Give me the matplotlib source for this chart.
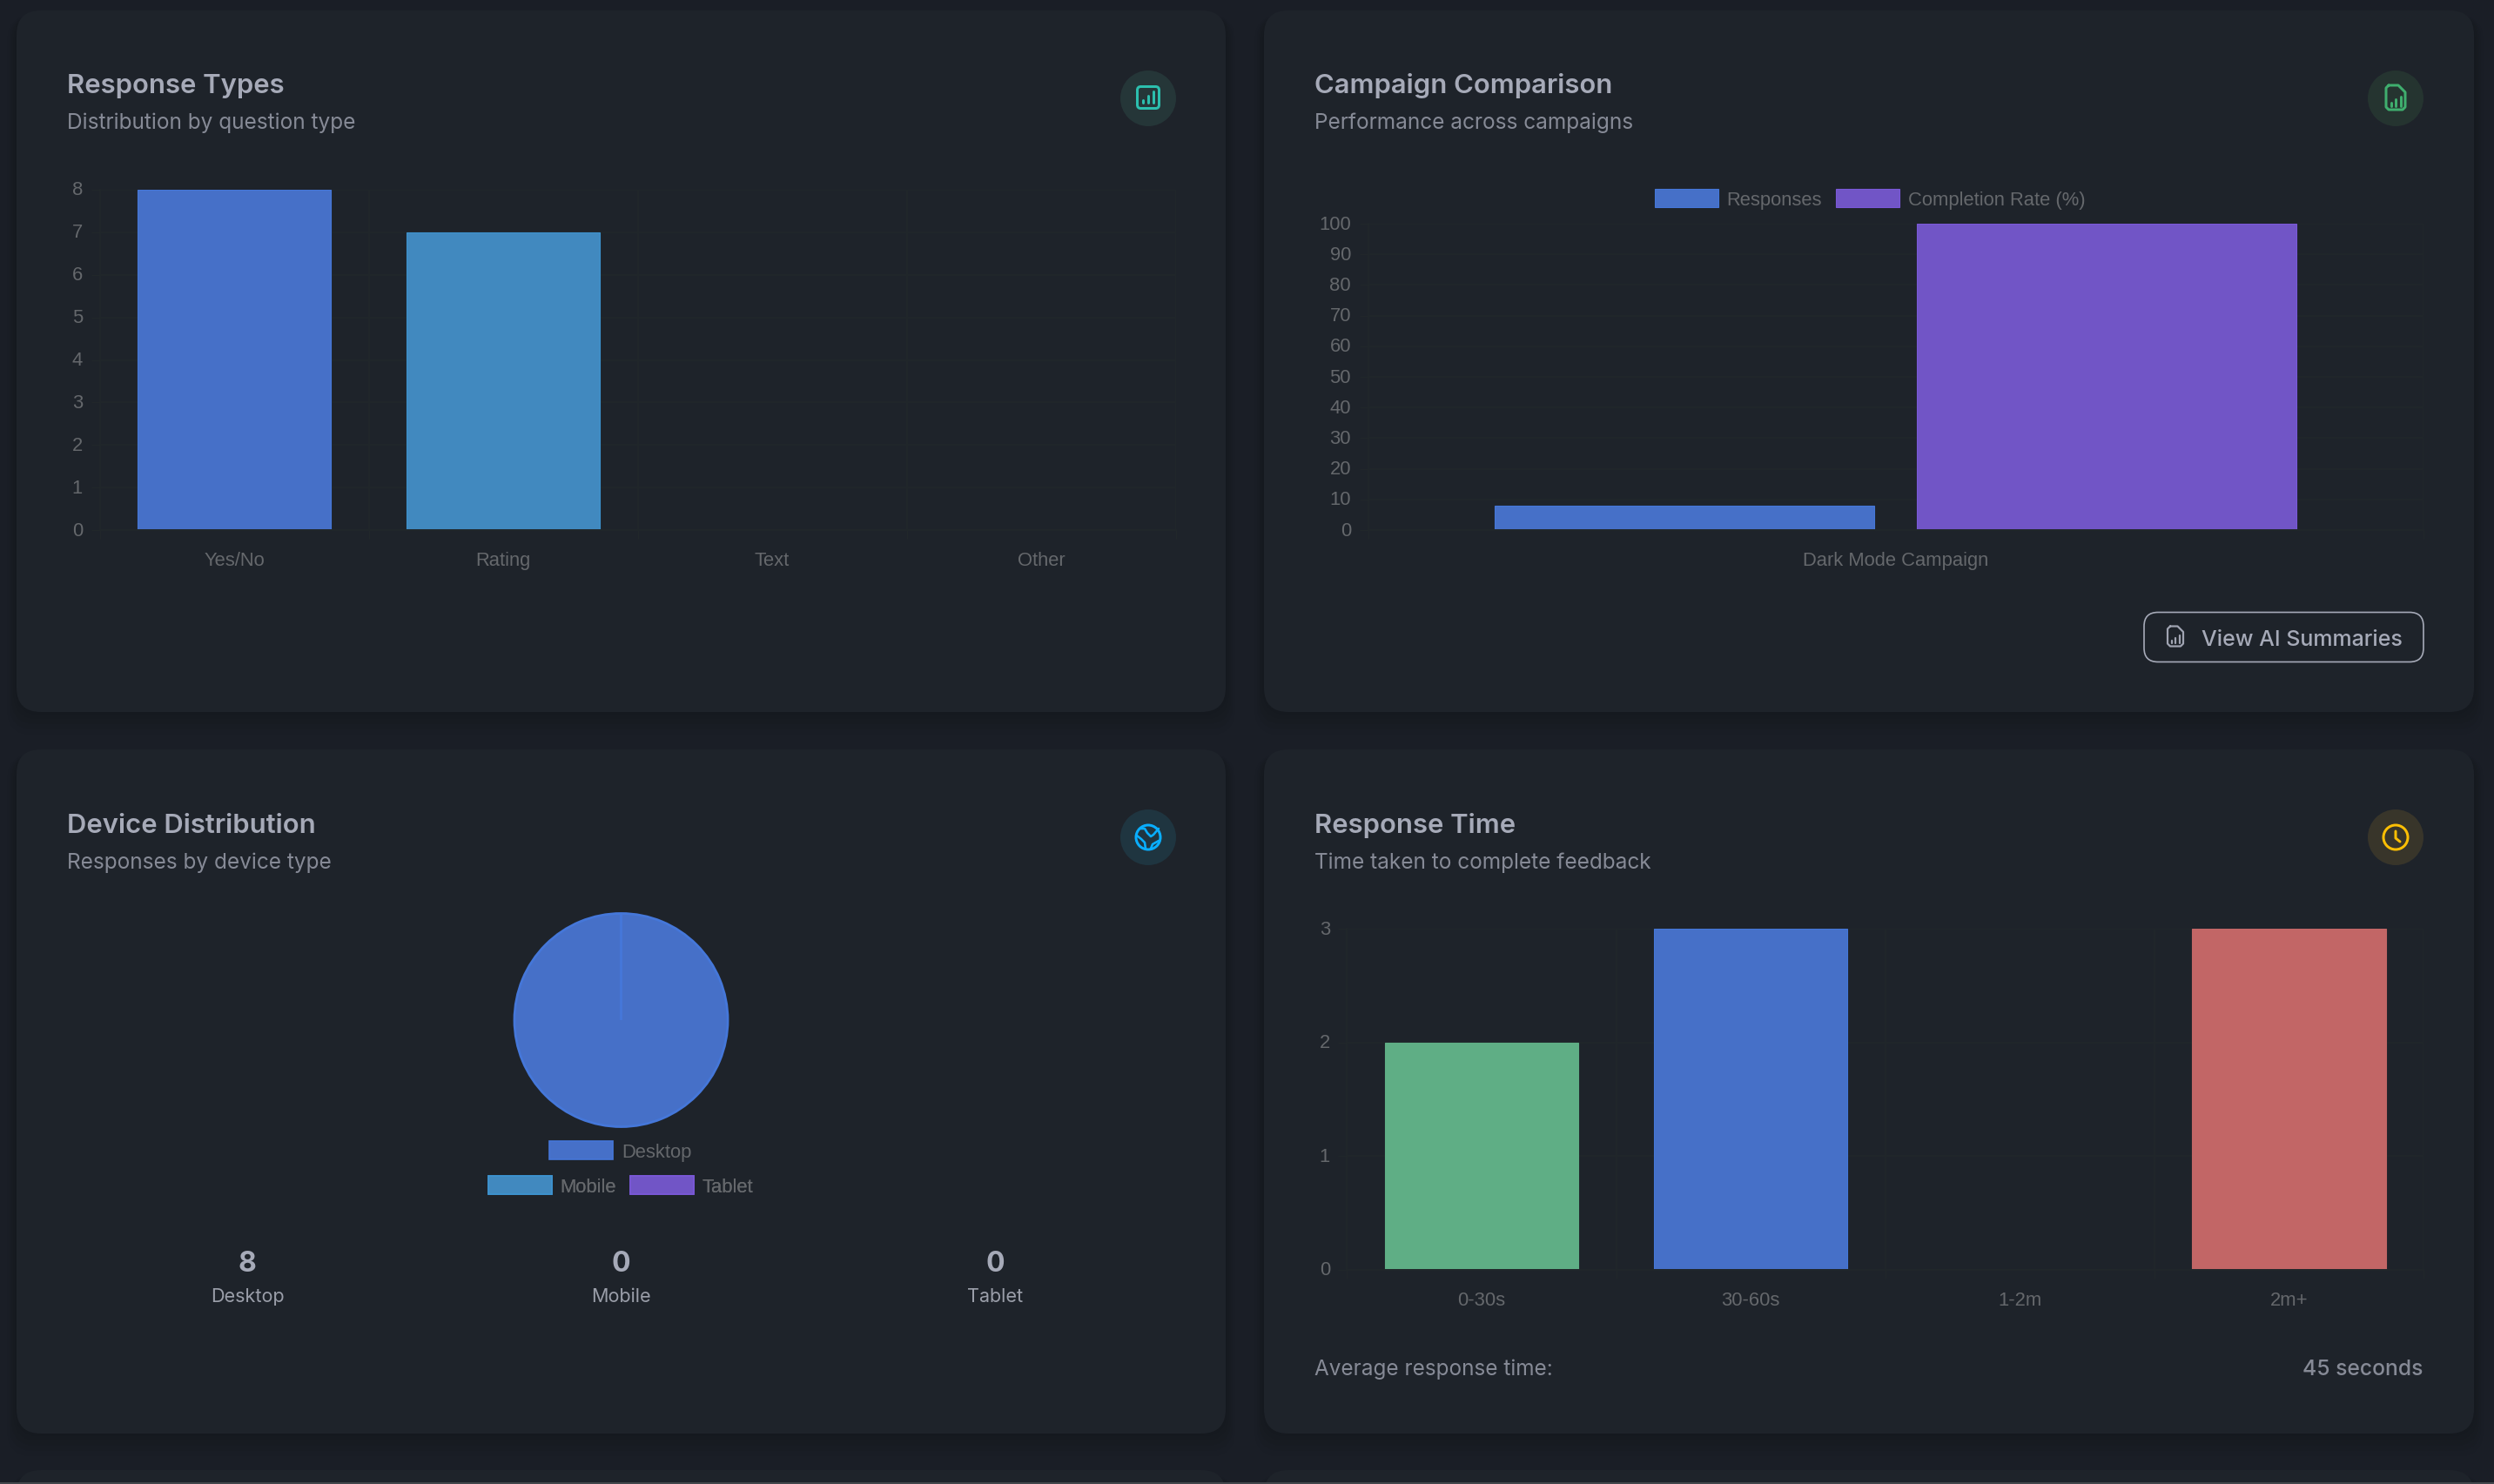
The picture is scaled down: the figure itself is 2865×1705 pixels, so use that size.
import matplotlib
matplotlib.use("Agg")
import matplotlib.pyplot as plt
from matplotlib.patches import FancyBboxPatch, Rectangle, Circle, Patch
from matplotlib.ticker import MultipleLocator
import numpy as np

plt.rcParams['font.family'] = ['Inter', 'DejaVu Sans']
CHART_FONT = ['Liberation Sans', 'DejaVu Sans']

# ---------- data ----------
type_labels = ["Yes/No", "Rating", "Text", "Other"]
type_values = [8, 7, 0, 0]
campaign_labels = ["Dark Mode Campaign"]
campaign_responses = [8]
campaign_completion = [100]
device_labels = ["Desktop", "Mobile", "Tablet"]
device_values = [8, 0, 0]
time_labels = ["0-30s", "30-60s", "1-2m", "2m+"]
time_values = [2, 3, 0, 3]

# ---------- colours ----------
PAGE = "#1a1e26"; CARD = "#1e232a"; GRID = "#21272a"
TITLE = "#a6aab8"; SUB = "#868a96"; TICK = "#65686c"
BLUE = "#4670c8"; BLUE_E = "#4577d9"; TEAL = "#4189bf"; TEAL_E = "#3d93cf"
PURPLE = "#7155c6"; PURPLE_E = "#7a58d8"; GREEN = "#5fae85"; RED = "#c26666"

W, H = 2865, 1706
fig = plt.figure(figsize=(W / 100, H / 100), dpi=100, facecolor=PAGE)
bg = fig.add_axes([0, 0, 1, 1], zorder=0)
bg.set_xlim(0, W); bg.set_ylim(H, 0); bg.axis("off")
px = 0.72  # pixel size to points at dpi 100


def card(x0, y0, x1, y1):
    r = 28
    for grow, alpha in [(26, .05), (20, .06), (14, .07), (8, .08), (3, .10)]:
        bg.add_patch(FancyBboxPatch((x0 - grow * .4, y0 + 6), x1 - x0 + grow * .8, y1 - y0 + grow - 6,
                                    boxstyle=f"round,pad=0,rounding_size={r}",
                                    fc="#14161a", ec="none", alpha=alpha * 1.6, zorder=1))
    bg.add_patch(FancyBboxPatch((x0, y0), x1 - x0, y1 - y0, boxstyle=f"round,pad=0,rounding_size={r}",
                                fc=CARD, ec="none", zorder=2))


card(19, 13, 1408, 819)
card(1452, 13, 2842, 819)
card(19, 862, 1408, 1648)
card(1452, 862, 2842, 1648)
card(19, 1690, 1408, 1800)
card(1452, 1690, 2842, 1800)
bg.add_patch(Rectangle((0, 1704), W, 2, fc="#43474c", ec="none", zorder=3))


def txt(x, y, s, size, color, weight="normal", ha="left"):
    bg.text(x, y, s, fontsize=size * px, color=color, fontweight=weight, ha=ha, va="baseline", zorder=5)


for x, y, t, s in [(77, 107, "Response Types", "Distribution by question type"),
                   (1510, 107, "Campaign Comparison", "Performance across campaigns"),
                   (77, 957, "Device Distribution", "Responses by device type"),
                   (1510, 957, "Response Time", "Time taken to complete feedback")]:
    txt(x, y, t, 31, TITLE, "semibold")
    txt(x, y + 41, s, 24.4, SUB)


def chart_axes(x0, y0, x1, y1):
    ax = fig.add_axes([x0 / W, 1 - y1 / H, (x1 - x0) / W, (y1 - y0) / H], zorder=3)
    ax.patch.set_alpha(0)
    for s in ["top", "right"]:
        ax.spines[s].set_visible(False)
    for s in ["left", "bottom"]:
        ax.spines[s].set_color(GRID); ax.spines[s].set_linewidth(1.4)
    ax.set_axisbelow(True)
    ax.grid(True, axis="y", color=GRID, lw=1.4)
    ax.tick_params(axis="y", which="major", colors=TICK, labelsize=22 * px, length=7, width=1, color=GRID, pad=7)
    ax.tick_params(axis="x", which="major", colors=TICK, labelsize=22 * px, length=0, pad=17)
    ax.tick_params(axis="x", which="minor", length=7, width=1, color=GRID)
    return ax


def category_grid(ax, n):
    ax.set_xlim(-.5, n - .5)
    ax.set_xticks(np.arange(n + 1) - .5, minor=True)
    ax.grid(True, axis="x", which="minor", color=GRID, lw=1.4)
    for lab in ax.get_xticklabels() + ax.get_yticklabels():
        lab.set_fontfamily(CHART_FONT)
    for lab in ax.get_yticklabels():
        lab.set_y(lab.get_position()[1])
        lab.set_verticalalignment("center")


# Response types
ax = chart_axes(114.5, 219, 1350.5, 610)
ax.bar(range(4), type_values, width=.72, color=[BLUE, TEAL, PURPLE, GREEN],
       edgecolor=[BLUE_E, TEAL_E, PURPLE_E, GREEN], linewidth=.8)
ax.set_ylim(0, 8); ax.yaxis.set_major_locator(MultipleLocator(1))
ax.set_xticks(range(4), type_labels)
category_grid(ax, 4)

# Campaign comparison
ax = chart_axes(1571.5, 258, 2783.5, 610)
b1 = ax.bar([-.2], campaign_responses, width=.36, color=BLUE, edgecolor=BLUE_E, linewidth=.8, label="Responses")
b2 = ax.bar([.2], campaign_completion, width=.36, color=PURPLE, edgecolor=PURPLE_E, linewidth=.8, label="Completion Rate (%)")
ax.set_ylim(0, 100); ax.yaxis.set_major_locator(MultipleLocator(10))
ax.set_xticks([0], campaign_labels)
category_grid(ax, 1)


def legend(handles, labels, cx, cy, ncol):
    lg = bg.legend(handles, labels, loc="center", bbox_to_anchor=(cx, cy), bbox_transform=bg.transData,
                   ncols=ncol, frameon=False, labelcolor=TICK, handlelength=3.32,
                   handleheight=1.1, handletextpad=.45, columnspacing=.72, borderpad=0, borderaxespad=0,
                   prop=dict(family=CHART_FONT, size=22 * px))
    lg.set_zorder(6)
    bg.add_artist(lg)


legend([b1, b2], ["Responses", "Completion Rate (%)"], 2148, 229.5, 2)

# Device pie
ax = fig.add_axes([(713.5 - 124) / W, 1 - (1173 + 124) / H, 248 / W, 248 / H], zorder=3)
ax.pie(device_values, colors=[BLUE, TEAL, PURPLE], startangle=90, counterclock=False, radius=1,
       wedgeprops=dict(edgecolor=BLUE_E, linewidth=2))
ax.set_xlim(-1.012, 1.012); ax.set_ylim(-1.012, 1.012)
h = [Patch(fc=BLUE, ec=BLUE_E, lw=1.2), Patch(fc=TEAL, ec=TEAL_E, lw=1.2), Patch(fc=PURPLE, ec=PURPLE_E, lw=1.2)]
legend(h[:1], device_labels[:1], 713, 1323.5, 1)
legend(h[1:], device_labels[1:], 713, 1363.5, 2)

for x, v, l in zip([284, 713.5, 1143.5], device_values, device_labels):
    txt(x, 1461, str(v), 32, TITLE, "bold", "center")
    txt(x, 1496, l, 21.6, "#9a9ea9", "normal", "center")

# Response time
ax = chart_axes(1547.5, 1068, 2784, 1460)
ax.bar(range(4), time_values, width=.72, color=[GREEN, BLUE, TEAL, RED],
       edgecolor=[GREEN, BLUE_E, TEAL_E, RED], linewidth=.8)
ax.set_ylim(0, 3); ax.yaxis.set_major_locator(MultipleLocator(1))
ax.set_xticks(range(4), time_labels)
category_grid(ax, 4)

txt(1510, 1580, "Average response time:", 24.3, SUB)
txt(2783, 1580, "45 seconds", 24.7, SUB, "medium", "right")

# Button
bg.add_patch(FancyBboxPatch((2463, 704.5), 321, 57, boxstyle="round,pad=0,rounding_size=16",
                            fc="none", ec=TITLE, lw=1.2, zorder=5))
txt(2529, 742, "View AI Summaries", 25, TITLE, "medium")


# ---------- icons ----------
def line(xs, ys, c, lw=3):
    bg.plot(xs, ys, color=c, lw=lw * px, solid_capstyle="round", solid_joinstyle="round", zorder=7)


def file_icon(cx, cy, w, hh, c, lw):
    x0, x1, y0, y1 = cx - w / 2, cx + w / 2, cy - hh / 2, cy + hh / 2
    cut = w * .36
    line([x0 + 3, x1 - cut, x1, x1, x1 - 3, x0 + 3, x0, x0, x0 + 3],
         [y0, y0, y0 + cut, y1 - 3, y1, y1, y1 - 3, y0 + 3, y0], c, lw)
    for f, top in [(.27, .72), (.52, .58), (.76, .45)]:
        line([x0 + w * f, x0 + w * f], [y0 + hh * top, y1 - hh * .14], c, lw)


for cx, cy, fc in [(1319, 114, "#253638"), (2752, 114, "#253430"), (1319, 963, "#1f3540"), (2752, 963, "#38352a")]:
    bg.add_patch(Circle((cx, cy), 32, fc=fc, ec="none", zorder=5))

c = "#2cbfae"
bg.add_patch(FancyBboxPatch((1306.5, 100.5), 25, 25, boxstyle="round,pad=0,rounding_size=4", fc="none",
                            ec=c, lw=3 * px, zorder=7))
for x, top in [(1313, 116), (1319, 111), (1325, 106)]:
    line([x, x], [top, 119], c, 3)
file_icon(2752, 113, 22, 28, "#3fae6e", 3)
file_icon(2499, 732, 18, 23, "#a0a4b2", 2.2)

c = "#09aeff"
bg.add_patch(Circle((1319, 963), 14, fc="none", ec=c, lw=3 * px, zorder=7))
line([1310, 1315, 1318, 1322, 1325, 1331], [953, 953, 958, 962, 960, 953], c, 2.6)
line([1306, 1311, 1315, 1316], [961, 965, 969, 976], c, 2.6)
line([1322, 1324, 1331], [976, 971, 967], c, 2.6)

c = "#fcbf04"
bg.add_patch(Circle((2752, 963), 14, fc="none", ec=c, lw=3 * px, zorder=7))
line([2752, 2752, 2757], [956, 964, 968], c, 3)
bg.set_xlim(0, W); bg.set_ylim(H, 0)

fig.savefig("out.png", dpi=100, facecolor=PAGE)
